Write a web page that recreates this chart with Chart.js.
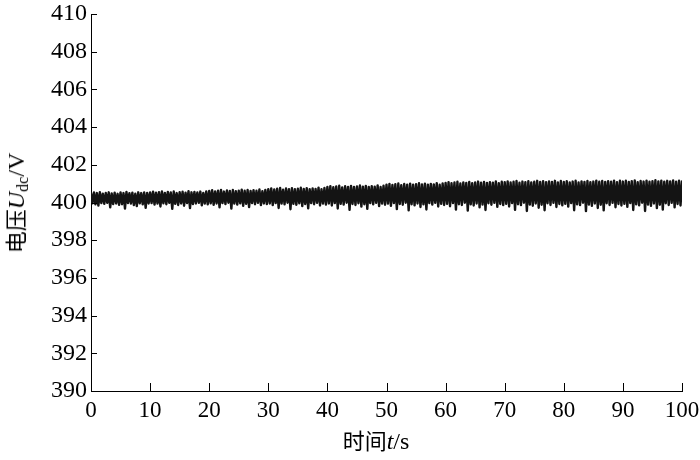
<!DOCTYPE html>
<html>
<head>
<meta charset="utf-8">
<script src="https://cdn.jsdelivr.net/npm/chart.js@4.4.1/dist/chart.umd.min.js"></script>
<style>
    body { margin: 0; background: #fff; }
    #wrap { position: relative; width: 700px; height: 460px; }
    .axis-title {
        position: absolute;
        font-family: "Liberation Serif", "Noto Sans CJK SC", serif;
        font-size: 24px;
        color: #000;
        white-space: nowrap;
        line-height: 1;
    }
    .axis-title .cjk { font-family: "Noto Sans CJK SC", sans-serif; font-size: 22px; }
    .axis-title sub { font-size: 16px; vertical-align: -4px; }
    #ytitle { left: 17px; top: 203px; transform: translate(-50%, -50%) rotate(-90deg); }
    #xtitle { left: 376px; top: 440px; transform: translate(-50%, -50%); }
</style>
</head>
<body>
<div id="wrap">
    <canvas id="chart" width="700" height="460"></canvas>
    <div class="axis-title" id="ytitle"><span class="cjk">电压</span><i>U</i><sub>dc</sub>/V</div>
    <div class="axis-title" id="xtitle"><span class="cjk">时间</span><i>t</i>/s</div>
</div>
<script>
// DC bus voltage, one sample every 0.25 s from 0 to 100 s
const startTime = 0;
const endTime = 100;
const voltage = [
    400.49, 399.96, 400.53, 399.90, 400.50, 399.84, 400.55, 399.97, 400.47, 399.93,
    400.51, 399.98, 400.54, 399.74, 400.48, 399.92, 400.52, 399.95, 400.46, 399.88,
    400.53, 399.91, 400.50, 399.68, 400.56, 399.97, 400.49, 399.94, 400.52, 399.86,
    400.47, 399.81, 400.54, 399.96, 400.50, 399.90, 400.53, 399.72, 400.51, 399.95,

    400.53, 399.97, 400.57, 399.89, 400.52, 399.94, 400.55, 399.79, 400.59, 399.96,
    400.51, 399.91, 400.56, 399.98, 400.53, 399.66, 400.58, 399.93, 400.50, 399.87,
    400.55, 399.95, 400.57, 399.83, 400.52, 399.97, 400.60, 399.70, 400.54, 399.92,
    400.56, 399.95, 400.53, 399.98, 400.58, 399.85, 400.51, 399.94, 400.59, 399.90,

    400.61, 399.96, 400.65, 399.88, 400.59, 399.95, 400.63, 399.74, 400.67, 399.97,
    400.58, 399.92, 400.64, 399.99, 400.61, 399.68, 400.66, 399.94, 400.60, 399.89,
    400.63, 399.96, 400.68, 399.82, 400.62, 399.93, 400.66, 399.76, 400.61, 399.97,
    400.65, 399.91, 400.62, 399.98, 400.69, 399.86, 400.60, 399.95, 400.67, 399.92,

    400.71, 399.95, 400.75, 399.86, 400.69, 399.97, 400.73, 399.71, 400.77, 399.94,
    400.68, 399.90, 400.74, 399.99, 400.71, 399.64, 400.76, 399.93, 400.70, 399.88,
    400.73, 399.96, 400.78, 399.81, 400.72, 399.92, 400.76, 399.69, 400.71, 399.97,
    400.75, 399.91, 400.72, 399.98, 400.79, 399.84, 400.70, 399.94, 400.77, 399.89,

    400.83, 399.95, 400.87, 399.84, 400.81, 399.97, 400.85, 399.68, 400.89, 399.93,
    400.80, 399.89, 400.86, 399.99, 400.83, 399.61, 400.88, 399.92, 400.82, 399.87,
    400.85, 399.96, 400.90, 399.78, 400.84, 399.91, 400.88, 399.66, 400.83, 399.97,
    400.87, 399.90, 400.84, 399.98, 400.91, 399.81, 400.82, 399.94, 400.89, 399.88,

    400.95, 399.94, 400.99, 399.82, 400.93, 399.97, 400.97, 399.65, 401.01, 399.92,
    400.92, 399.88, 400.98, 399.99, 400.95, 399.58, 401.00, 399.91, 400.94, 399.85,
    400.97, 399.95, 401.02, 399.76, 400.96, 399.90, 401.00, 399.63, 400.95, 399.97,
    400.99, 399.89, 400.96, 399.98, 401.03, 399.79, 400.94, 399.93, 401.01, 399.87,

    401.04, 399.93, 401.08, 399.80, 401.02, 399.97, 401.06, 399.62, 401.10, 399.91,
    401.01, 399.87, 401.07, 399.99, 401.04, 399.57, 401.09, 399.90, 401.03, 399.84,
    401.06, 399.95, 401.11, 399.74, 401.05, 399.89, 401.09, 399.60, 401.04, 399.96,
    401.08, 399.88, 401.05, 399.98, 401.12, 399.77, 401.03, 399.92, 401.10, 399.86,

    401.08, 399.93, 401.12, 399.79, 401.06, 399.97, 401.10, 399.61, 401.14, 399.91,
    401.05, 399.86, 401.11, 399.99, 401.08, 399.55, 401.13, 399.89, 401.07, 399.83,
    401.10, 399.95, 401.15, 399.72, 401.09, 399.88, 401.13, 399.59, 401.08, 399.96,
    401.12, 399.87, 401.09, 399.98, 401.15, 399.76, 401.07, 399.92, 401.14, 399.85,

    401.09, 399.93, 401.13, 399.78, 401.07, 399.97, 401.11, 399.59, 401.15, 399.90,
    401.06, 399.86, 401.12, 399.99, 401.09, 399.54, 401.14, 399.89, 401.08, 399.82,
    401.11, 399.95, 401.16, 399.71, 401.10, 399.88, 401.14, 399.58, 401.09, 399.96,
    401.13, 399.87, 401.10, 399.98, 401.16, 399.75, 401.08, 399.92, 401.15, 399.84,

    401.11, 399.93, 401.15, 399.77, 401.09, 399.97, 401.13, 399.60, 401.17, 399.90,
    401.08, 399.85, 401.14, 399.99, 401.11, 399.55, 401.16, 399.89, 401.10, 399.82,
    401.13, 399.95, 401.18, 399.70, 401.12, 399.88, 401.16, 399.62, 401.11, 399.96,
    401.15, 399.87, 401.12, 399.98, 401.17, 399.74, 401.10, 399.92, 401.16, 399.84,
    401.12
];
const yMin = 390, yMax = 410, yStep = 2;
const xMin = 0, xMax = 100, xStep = 10;

// samples are evenly spaced in time
const dt = (endTime - startTime) / (voltage.length - 1);
const points = voltage.map((v, i) => ({ x: startTime + i * dt, y: v }));

// ticks pointing into the plot area, like the original figure
const innerTicks = {
    id: 'innerTicks',
    afterDraw(chart) {
        const { ctx, scales: { x, y } } = chart;
        ctx.save();
        ctx.strokeStyle = '#000';
        ctx.lineWidth = 1;
        ctx.beginPath();
        x.ticks.forEach((t) => {
            const px = Math.round(x.getPixelForValue(t.value)) + 0.5;
            ctx.moveTo(px, y.bottom);
            ctx.lineTo(px, y.bottom - 8);
        });
        y.ticks.forEach((t) => {
            const py = Math.round(y.getPixelForValue(t.value)) + 0.5;
            ctx.moveTo(x.left, py);
            ctx.lineTo(x.left + 6, py);
        });
        ctx.stroke();
        ctx.restore();
    },
};

const serif = '"Liberation Serif", "Times New Roman", serif';

new Chart(document.getElementById('chart'), {
    type: 'line',
    data: {
        datasets: [{
            data: points,
            borderColor: '#141414',
            borderWidth: 2.4,
            borderJoinStyle: 'round',
            borderCapStyle: 'round',
            pointRadius: 0,
            tension: 0,
            fill: false,
        }],
    },
    options: {
        responsive: false,
        animation: false,
        layout: { padding: { top: 14, right: 18, left: 0, bottom: 0 } },
        plugins: { legend: { display: false }, tooltip: { enabled: false } },
        scales: {
            x: {
                type: 'linear',
                min: xMin,
                max: xMax,
                grid: { display: false, drawTicks: false },
                border: { display: true, color: '#000', width: 1 },
                ticks: { stepSize: xStep, font: { family: serif, size: 23 }, color: '#000', padding: 6, maxRotation: 0 },
                afterFit: (scale) => {
                    scale.height = 69;
                    scale.paddingLeft = 0;
                    scale.paddingRight = 0;
                },
            },
            y: {
                min: yMin,
                max: yMax,
                grid: { display: false, drawTicks: false },
                border: { display: true, color: '#000', width: 1 },
                ticks: { stepSize: yStep, font: { family: serif, size: 24 }, color: '#000', padding: 4 },
                afterFit: (scale) => {
                    scale.width = 91;
                    scale.paddingTop = 0;
                    scale.paddingBottom = 0;
                },
            },
        },
    },
    plugins: [innerTicks],
});
</script>
</body>
</html>
